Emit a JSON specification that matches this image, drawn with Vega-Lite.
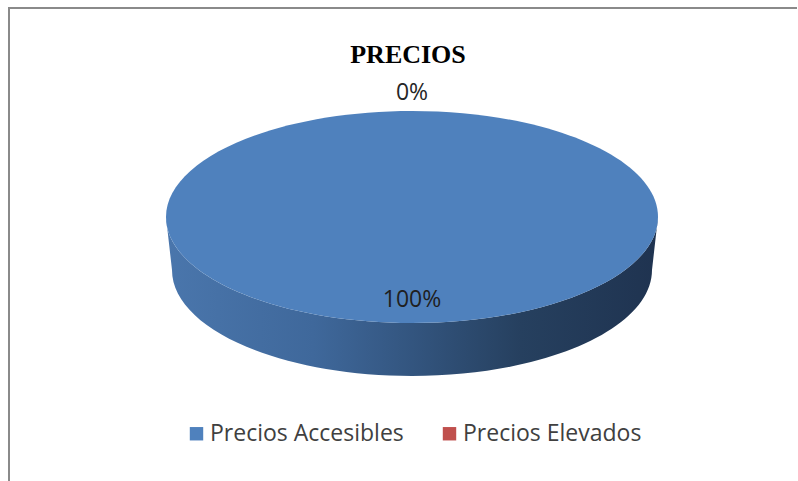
{
  "$schema": "https://vega.github.io/schema/vega-lite/v6.json",
  "width": 789,
  "height": 473,
  "autosize": {"type": "none"},
  "padding": {"left": 9, "top": 8, "right": 0, "bottom": 0},
  "background": "white",
  "view": {"stroke": "#8a8a8a", "strokeWidth": 2, "strokeDash": [788, 1263, 480, 10]},
  "title": {
    "text": "PRECIOS",
    "font": "Liberation Serif",
    "fontSize": 26,
    "fontWeight": "bold",
    "color": "#000000",
    "anchor": "middle",
    "offset": -60,
    "dx": 4.5
  },
  "data": {
    "values": [
      {"categoria": "Precios Accesibles", "porcentaje": 1},
      {"categoria": "Precios Elevados", "porcentaje": 0}
    ]
  },
  "layer": [
    {
      "transform": [{"filter": "datum.porcentaje > 0"}],
      "mark": {
        "type": "point",
        "shape": "M-246,0L-240,53A240,106 0 0,0 240,53L246,0A246,106 0 0,1 -246,0Z",
        "size": 4,
        "filled": true,
        "opacity": 1,
        "strokeWidth": 0,
        "xOffset": 8.5,
        "yOffset": -27.5,
        "color": {
          "gradient": "linear",
          "x1": 0, "x2": 1, "y1": 0, "y2": 0,
          "stops": [
            {"offset": 0, "color": "#4a76ac"},
            {"offset": 0.3, "color": "#3f689b"},
            {"offset": 0.5, "color": "#33557f"},
            {"offset": 0.72, "color": "#26405f"},
            {"offset": 1, "color": "#1f3350"}
          ]
        }
      },
      "encoding": {}
    },
    {
      "transform": [{"filter": "datum.porcentaje > 0"}],
      "mark": {
        "type": "point",
        "shape": "M-246,0A246,106 0 1,0 246,0A246,106 0 1,0 -246,0Z",
        "size": 4,
        "filled": true,
        "opacity": 1,
        "strokeWidth": 0,
        "xOffset": 8.5,
        "yOffset": -27.5
      },
      "encoding": {
        "color": {
          "field": "categoria",
          "type": "nominal",
          "scale": {
            "domain": ["Precios Accesibles", "Precios Elevados"],
            "range": ["#4f81bd", "#c0504d"]
          },
          "legend": {
            "orient": "none",
            "legendX": 176,
            "legendY": 414,
            "direction": "horizontal",
            "title": null,
            "symbolType": "square",
            "symbolSize": 180,
            "symbolStrokeWidth": 0,
            "labelFont": "Open Sans",
            "labelFontSize": 23,
            "labelColor": "#404040",
            "labelOffset": 2,
            "columnPadding": 34,
            "padding": 0,
            "labelLimit": 400
          }
        }
      }
    },
    {
      "transform": [{"filter": "datum.porcentaje == 0"}],
      "mark": {
        "type": "text",
        "radius": 124.5,
        "font": "Open Sans",
        "fontSize": 23,
        "color": "#262626",
        "baseline": "middle",
        "align": "center",
        "xOffset": 8.5,
        "yOffset": -27.5
      },
      "encoding": {
        "theta": {"field": "porcentaje", "type": "quantitative", "stack": true, "scale": {"domain": [0, 1]}},
        "text": {"field": "porcentaje", "type": "quantitative", "format": ".0%"}
      }
    },
    {
      "transform": [{"filter": "datum.porcentaje > 0"}],
      "mark": {
        "type": "text",
        "radius": 82.5,
        "font": "Open Sans",
        "fontSize": 23,
        "color": "#1f1f1f",
        "baseline": "middle",
        "align": "center",
        "xOffset": 8.5,
        "yOffset": -27.5
      },
      "encoding": {
        "theta": {"field": "porcentaje", "type": "quantitative", "stack": true, "scale": {"domain": [0, 1]}},
        "text": {"field": "porcentaje", "type": "quantitative", "format": ".0%"}
      }
    }
  ]
}
